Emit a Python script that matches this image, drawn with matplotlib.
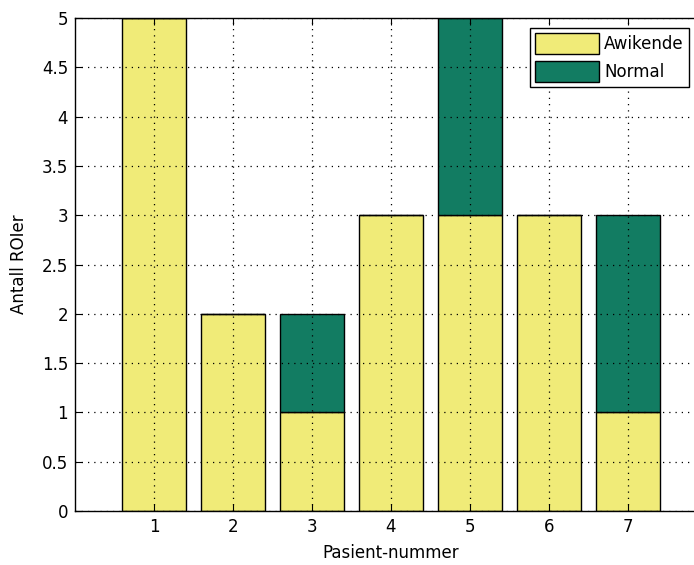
import matplotlib
matplotlib.use("Agg")
import matplotlib.pyplot as plt
from matplotlib.patches import Rectangle
from matplotlib.legend_handler import HandlerPatch
import numpy as np

patients = [1, 2, 3, 4, 5, 6, 7]
awikende = [5, 2, 1, 3, 3, 3, 1]
normal = [0, 0, 1, 0, 2, 0, 2]
yticks = [0, 0.5, 1, 1.5, 2, 2.5, 3, 3.5, 4, 4.5, 5]
ytick_labels = ["0", "0.5", "1", "1.5", "2", "2.5", "3", "3.5", "4", "4.5", "5"]

plt.rcParams['font.family'] = ['DejaVu Sans']
FS = 12

W, H = 694, 565
fig = plt.figure(figsize=(W / 100, H / 100), dpi=100)
ax = fig.add_axes([75 / W, (H - 511) / H, 632 / W, 493 / H])

yellow = '#F0EB78'
green = '#127C62'
ax.bar(patients, awikende, width=0.8, color=yellow, edgecolor='black', linewidth=1.0, label='Awikende', zorder=2)
ax.bar(patients, normal, width=0.8, bottom=awikende, color=green, edgecolor='black', linewidth=1.0, label='Normal', zorder=2)

ax.set_xlim(0, 8)
ax.set_ylim(0, 5)
ax.set_xticks(patients)
ax.set_yticks(yticks)
ax.set_yticklabels(ytick_labels)
ax.tick_params(direction='in', top=True, right=True, labelsize=FS, length=5, width=0.8, pad=5)
ax.grid(True, linestyle=(0, (1, 4)), color='black', linewidth=0.9, zorder=3)
ax.set_axisbelow(False)
for s in ax.spines.values():
    s.set_linewidth(1.0)
ax.set_xlabel('Pasient-nummer', fontsize=FS, labelpad=6)
ax.set_ylabel('Antall ROIer', fontsize=FS, labelpad=10)


def make_patch(legend, orig_handle, xdescent, ydescent, width, height, fontsize):
    off = 7 * 72 / 100
    return Rectangle((-xdescent + off, -ydescent), width - off, height)


leg = ax.legend(loc='upper left', bbox_to_anchor=(0.72, 0.98), borderaxespad=0,
                fontsize=FS, fancybox=False, framealpha=1, edgecolor='black',
                handlelength=3.84, handleheight=1.56, borderpad=0.3, labelspacing=0.42,
                handletextpad=0.3,
                handler_map={Rectangle: HandlerPatch(patch_func=make_patch)})
leg.get_frame().set_linewidth(1.0)

fig.savefig('out.png', dpi=100)
